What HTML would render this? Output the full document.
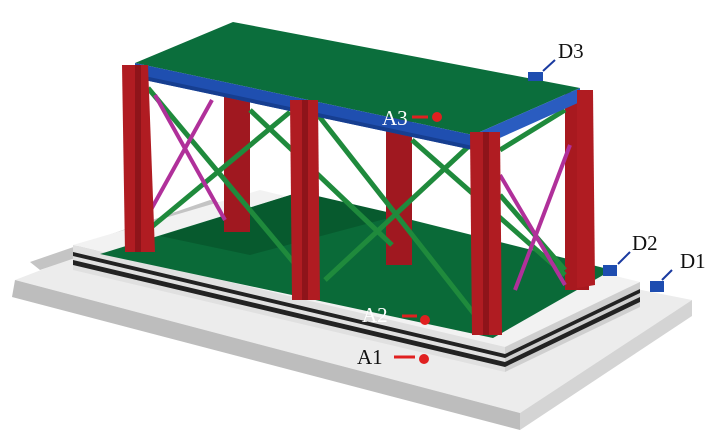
<!DOCTYPE html><html><head><style>body{margin:0;background:#fff}svg{display:block}text{font-family:"Liberation Serif",serif;font-size:21px}</style></head><body>
<svg width="709" height="437" viewBox="0 0 709 437" xmlns="http://www.w3.org/2000/svg">
<polygon points="15,280 210,205 692,300 520,413" fill="#ececec"/>
<polygon points="30,262 210,200 230,205 40,270" fill="#c4c4c4"/>
<polygon points="15,280 520,413 520,430 12,297" fill="#bdbdbd"/>
<polygon points="520,413 692,300 692,316 520,430" fill="#d4d4d4"/>
<polygon points="73,245 260,190 640,282 505,347" fill="#f2f2f2"/>
<polygon points="73,245 505,347 505,372 73,270" fill="#e0e0e0"/>
<polygon points="73,252 505,354 505,358 73,256" fill="#222"/>
<polygon points="73,260 505,362 505,367 73,265" fill="#222"/>
<polygon points="505,347 640,282 640,307 505,372" fill="#cfcfcf"/>
<polygon points="505,354 640,289 640,293 505,358" fill="#222"/>
<polygon points="505,362 640,297 640,302 505,367" fill="#222"/>
<polygon points="100,254 300,192 612,270 493,338" fill="#0a6a38"/>
<polygon points="160,236 300,192 400,215 250,255" fill="#075a2e"/>
<rect x="224" y="92" width="26" height="140" fill="#a01820"/>
<rect x="386" y="115" width="26" height="150" fill="#a01820"/>
<rect x="565" y="92" width="24" height="198" fill="#a8191f"/>
<g stroke="#1f8a3c" stroke-width="5">
<line x1="148" y1="88" x2="300" y2="270"/><line x1="148" y1="230" x2="290" y2="112"/>
<line x1="318" y1="115" x2="475" y2="315"/><line x1="325" y1="280" x2="470" y2="145"/>
<line x1="250" y1="110" x2="392" y2="245"/><line x1="412" y1="140" x2="565" y2="275"/>
<line x1="500" y1="150" x2="565" y2="110"/><line x1="500" y1="195" x2="565" y2="270"/>
</g>
<g stroke="#b0309a" stroke-width="4">
<line x1="148" y1="215" x2="212" y2="100"/><line x1="155" y1="95" x2="225" y2="220"/>
<line x1="500" y1="175" x2="565" y2="285"/><line x1="515" y1="290" x2="570" y2="145"/>
</g>
<polygon points="135,63 233,22 580,88 473,135" fill="#0b6e3c"/>
<polygon points="135,63 473,135 473,150 135,78" fill="#1f4fb0"/>
<polygon points="473,135 580,88 580,102 473,150" fill="#2a5cc0"/>
<polygon points="135,74 473,146 473,150 135,78" fill="#163e90"/>
<polygon points="122,65 148,65 155,252 125,252" fill="#b01c22"/>
<rect x="135" y="65" width="6" height="187" fill="#8e141a"/>
<polygon points="290,100 318,100 320,300 292,300" fill="#b01c22"/>
<rect x="302" y="100" width="6" height="200" fill="#8e141a"/>
<polygon points="470,132 500,132 502,335 472,335" fill="#b01c22"/>
<rect x="483" y="132" width="6" height="203" fill="#8e141a"/>
<polygon points="577,90 593,90 595,285 577,288" fill="#b01c22"/>
<text x="558" y="58" fill="#111">D3</text>
<line x1="555" y1="60" x2="543" y2="71" stroke="#1a3aa0" stroke-width="2"/>
<rect x="528" y="72" width="15" height="9" fill="#1e4db0"/>
<text x="382" y="125" fill="#fff">A3</text>
<line x1="412" y1="117" x2="428" y2="117" stroke="#e02020" stroke-width="3"/>
<circle cx="437" cy="117" r="5" fill="#e02020"/>
<text x="632" y="250" fill="#111">D2</text>
<line x1="630" y1="252" x2="618" y2="264" stroke="#1a3aa0" stroke-width="2"/>
<rect x="603" y="265" width="14" height="11" fill="#1e4db0"/>
<text x="680" y="268" fill="#111">D1</text>
<line x1="672" y1="270" x2="662" y2="280" stroke="#1a3aa0" stroke-width="2"/>
<rect x="650" y="281" width="14" height="11" fill="#1e4db0"/>
<text x="362" y="322" fill="#fff">A2</text>
<line x1="402" y1="316" x2="417" y2="316" stroke="#e02020" stroke-width="3"/>
<circle cx="425" cy="320" r="5" fill="#e02020"/>
<text x="357" y="364" fill="#111">A1</text>
<line x1="394" y1="357" x2="415" y2="357" stroke="#e02020" stroke-width="3"/>
<circle cx="424" cy="359" r="5" fill="#e02020"/>
</svg>
</body></html>
